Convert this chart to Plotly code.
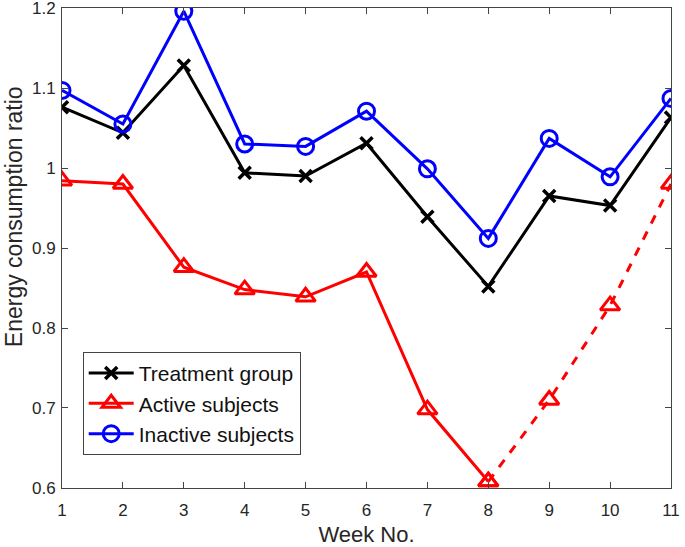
import plotly.graph_objects as go

weeks = [1, 2, 3, 4, 5, 6, 7, 8, 9, 10, 11]
treatment = [1.076, 1.044, 1.128, 0.994, 0.990, 1.031, 0.939, 0.852, 0.965, 0.953, 1.063]
active = [0.984, 0.980, 0.876, 0.848, 0.839, 0.870, 0.698, 0.608, 0.710, 0.828, 0.980]
inactive = [1.097, 1.055, 1.196, 1.030, 1.027, 1.071, 0.999, 0.912, 1.037, 0.989, 1.087]
y_ticks = [0.6, 0.7, 0.8, 0.9, 1.0, 1.1, 1.2]
y_tick_text = ["0.6", "0.7", "0.8", "0.9", "1", "1.1", "1.2"]
split = 7  # index of week 8: solid before, dashed after

font = "Liberation Sans, Arial, sans-serif"

fig = go.Figure()
fig.add_trace(go.Scatter(
    x=weeks, y=treatment, mode="lines+markers", name="Treatment group",
    line=dict(color="black", width=3),
    marker=dict(symbol="x-thin", size=12, line=dict(color="black", width=3.5)),
))
fig.add_trace(go.Scatter(
    x=weeks[:split + 1], y=active[:split + 1], mode="lines+markers", name="Active subjects",
    line=dict(color="#ff0000", width=3),
    marker=dict(symbol="triangle-up-open", size=17, color="#ff0000", line=dict(width=3)),
))
fig.add_trace(go.Scatter(
    x=weeks[split:], y=active[split:], mode="lines+markers", name="Active subjects",
    showlegend=False,
    line=dict(color="#ff0000", width=3, dash="dash"),
    marker=dict(symbol="triangle-up-open", size=17, color="#ff0000", line=dict(width=3)),
))
fig.add_trace(go.Scatter(
    x=weeks, y=inactive, mode="lines+markers", name="Inactive subjects",
    line=dict(color="#0000ff", width=3),
    marker=dict(symbol="circle-open", size=16, color="#0000ff", line=dict(width=3)),
))

axis_common = dict(
    showgrid=False, zeroline=False, showline=True, linecolor="#444444", linewidth=1,
    mirror="ticks", ticks="inside", ticklen=6, tickcolor="#444444", automargin=False,
    tickfont=dict(family=font, size=17, color="#262626"), ticklabeloverflow="allow",
)
fig.update_xaxes(range=[0.9999, 11.0001], tickvals=weeks, ticklabelstandoff=7,
                 title=dict(text="Week No.", font=dict(family=font, size=22, color="#262626"), standoff=12),
                 **axis_common)
fig.update_yaxes(range=[0.59999, 1.20001], tickvals=y_ticks, ticktext=y_tick_text, ticklabelstandoff=2,
                 **axis_common)

fig.add_annotation(
    text="Energy consumption ratio", textangle=-90, showarrow=False,
    xref="paper", yref="paper", x=-0.1015, y=0.5646, xanchor="left", yanchor="middle",
    font=dict(family=font, size=23, color="#262626"), borderpad=0,
)

fig.update_layout(
    width=685, height=547,
    margin=dict(l=62, r=14, t=8, b=59, autoexpand=False),
    plot_bgcolor="white", paper_bgcolor="white",
    legend=dict(x=0.034, y=0.069, xanchor="left", yanchor="bottom",
                bgcolor="white", bordercolor="#444444", borderwidth=1,
                font=dict(family=font, size=21, color="#111111"),
                itemwidth=45, tracegroupgap=0),
)
fig.write_html("out.html", post_script="document.body.style.margin='0';",
               config={"displayModeBar": False})
